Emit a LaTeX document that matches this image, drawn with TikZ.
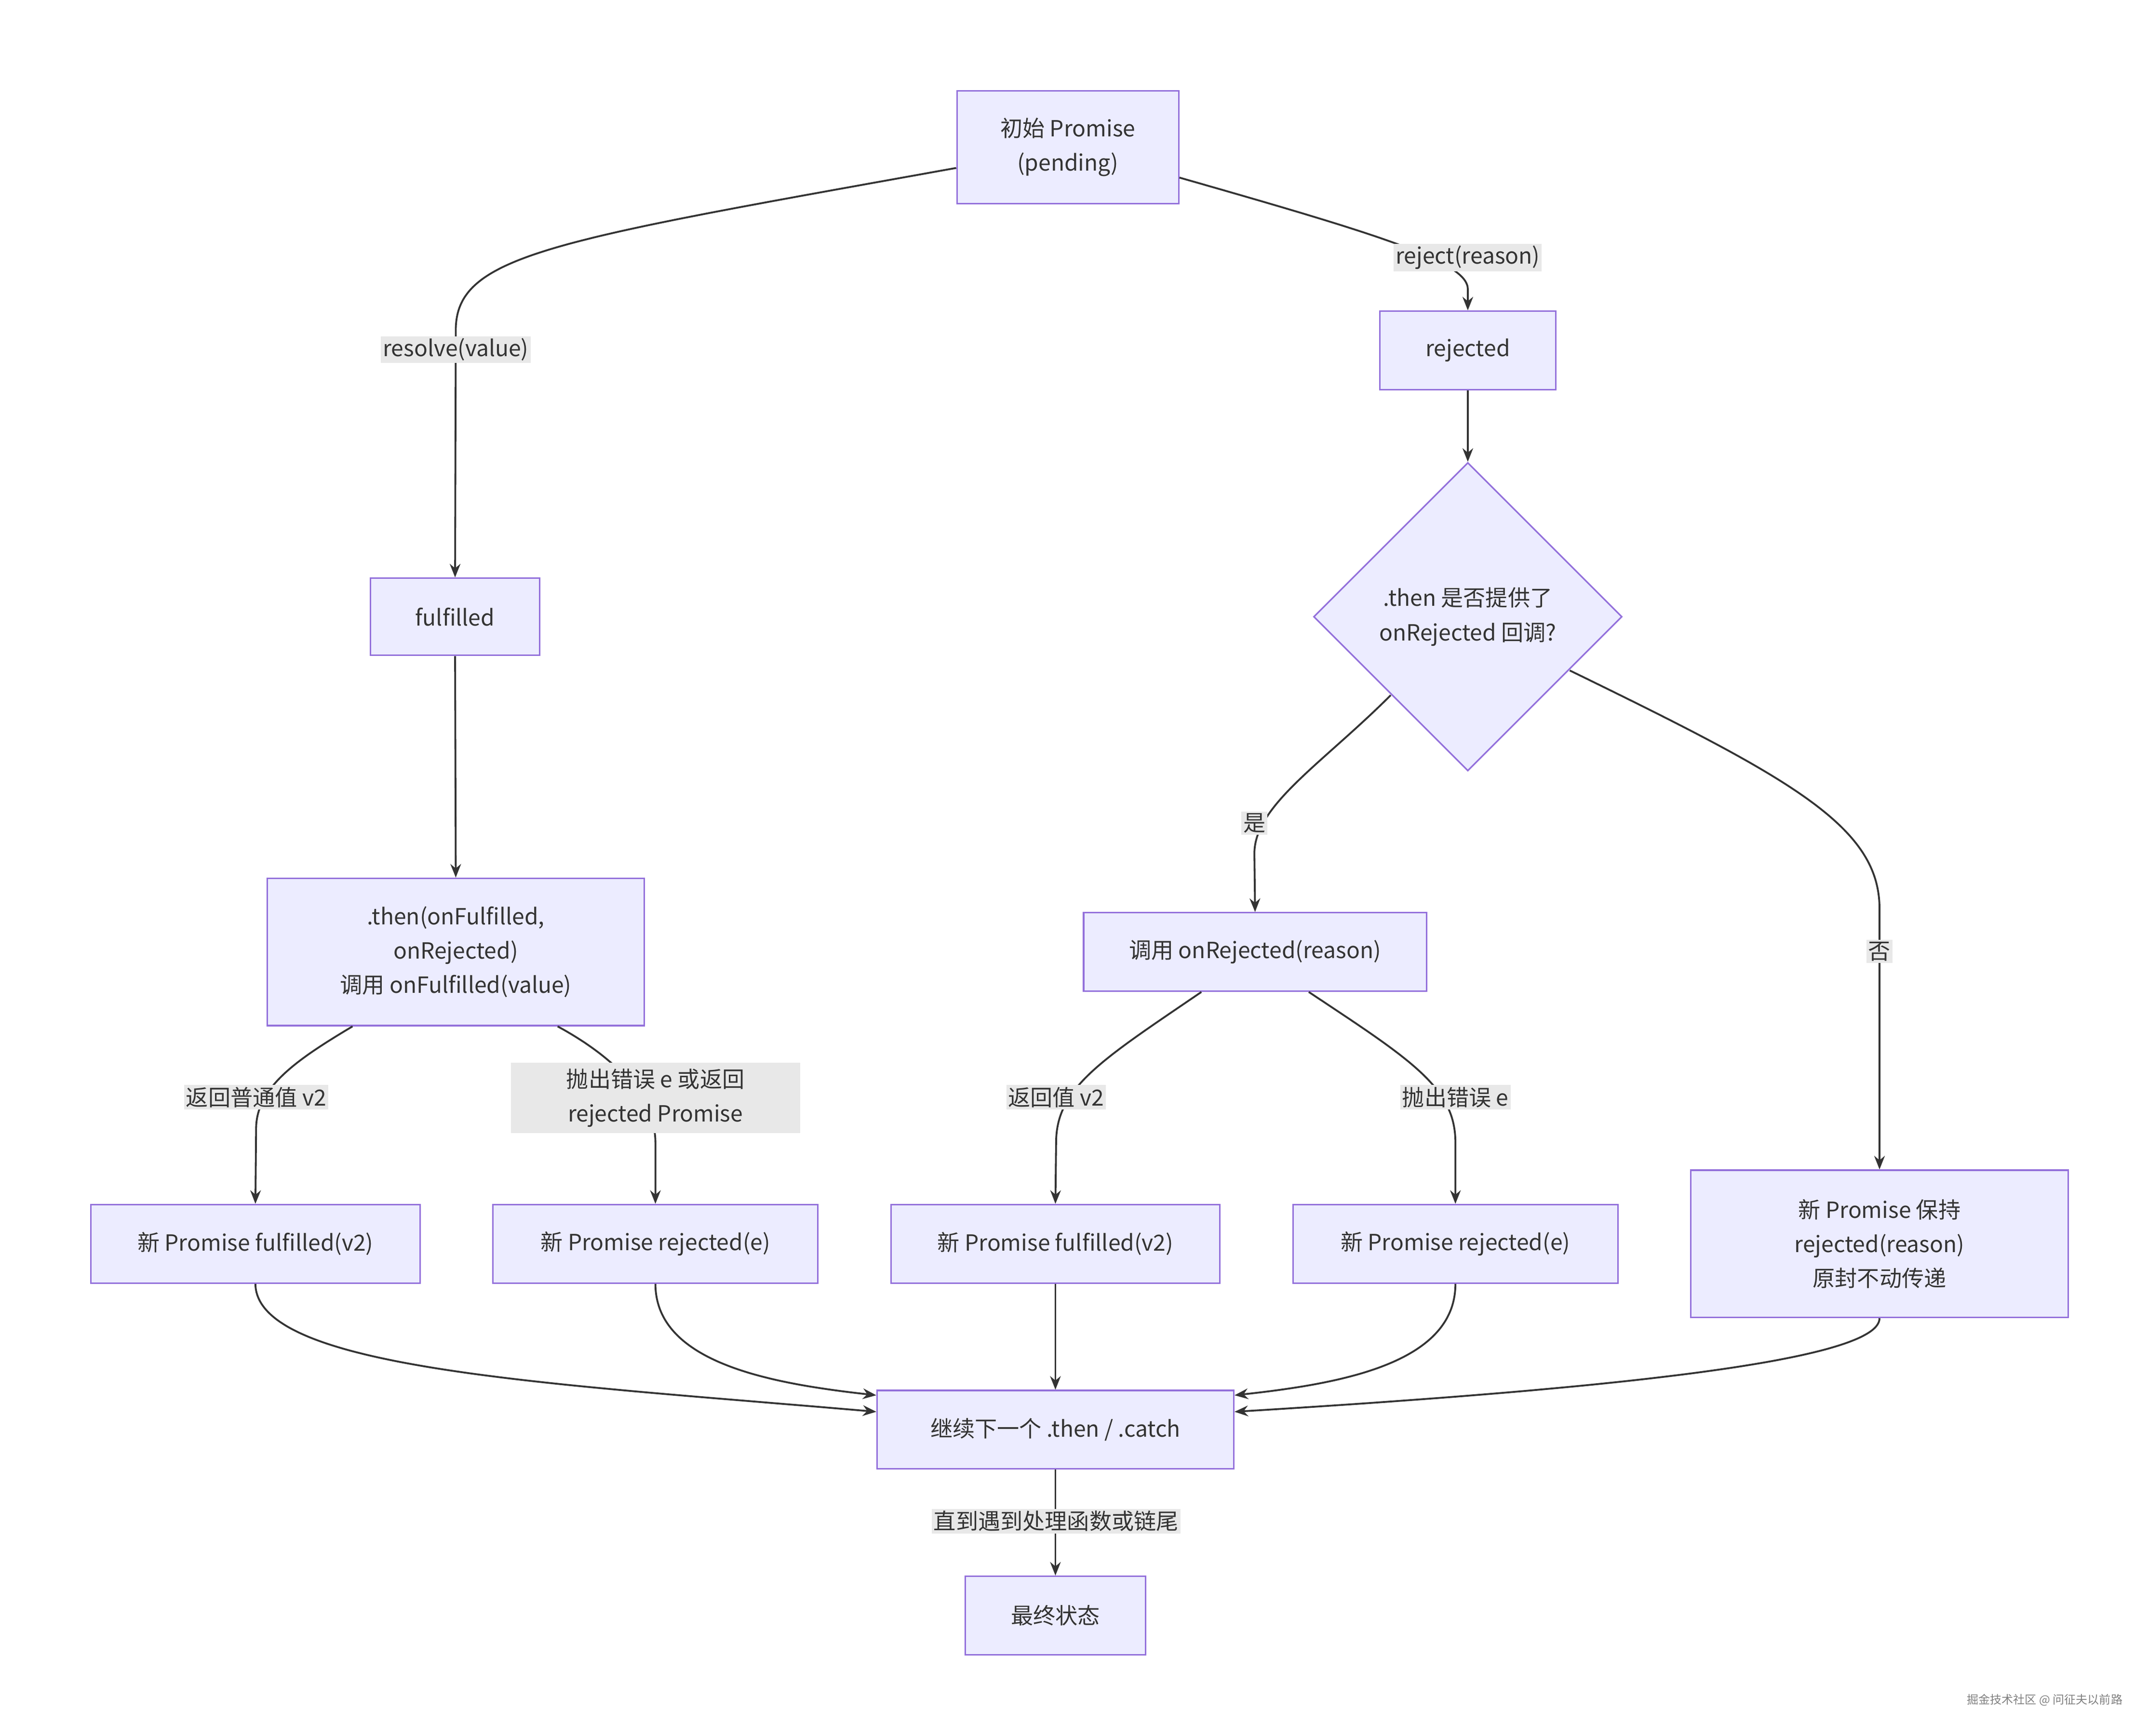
\documentclass[tikz,border=0pt]{standalone}
\usepackage{fontspec}
\setmainfont{Noto Sans CJK SC}
\usetikzlibrary{shapes.geometric,arrows.meta,calc}
\definecolor{nfill}{HTML}{ECECFF}
\definecolor{nline}{HTML}{9370DB}
\definecolor{eline}{HTML}{333333}
\definecolor{lbg}{HTML}{E8E8E8}
\begin{document}
\begin{tikzpicture}[x=0.05cm,y=-0.05cm,
  box/.style={draw=nline,fill=nfill,line width=1.6pt,inner sep=0pt,align=center,text=eline,font=\fontsize{23}{35.5}\selectfont},
  lab/.style={fill=lbg,inner sep=2pt,align=center,text=eline,font=\fontsize{23}{35.5}\selectfont},
  arr/.style={draw=eline,line width=1.9pt,-{Stealth[length=14pt,width=11pt]}}]
\useasboundingbox (0,0) rectangle (1560,1261);
\node[box,minimum width=161*0.05cm,minimum height=82*0.05cm] (init) at (775.5,107) {初始 Promise\\(pending)};
\node[box,minimum width=128*0.05cm,minimum height=57*0.05cm] (rej) at (1066,254.5) {rejected};
\node[box,minimum width=123*0.05cm,minimum height=56*0.05cm] (ful) at (330.5,448) {fulfilled};
\node[box,diamond,minimum width=224*0.05cm,minimum height=224*0.05cm] (dia) at (1066,448) {.then 是否提供了\\onRejected 回调?};
\node[box,minimum width=274*0.05cm,minimum height=107*0.05cm] (then) at (331,691.5) {.then(onFulfilled,\\onRejected)\\调用 onFulfilled(value)};
\node[box,minimum width=249*0.05cm,minimum height=57*0.05cm] (call) at (911.5,691.5) {调用 onRejected(reason)};
\node[box,minimum width=239*0.05cm,minimum height=57*0.05cm] (f1) at (185.5,903.5) {新 Promise fulfilled(v2)};
\node[box,minimum width=236*0.05cm,minimum height=57*0.05cm] (r1) at (476,903.5) {新 Promise rejected(e)};
\node[box,minimum width=239*0.05cm,minimum height=57*0.05cm] (f2) at (766.5,903.5) {新 Promise fulfilled(v2)};
\node[box,minimum width=236*0.05cm,minimum height=57*0.05cm] (r2) at (1057,903.5) {新 Promise rejected(e)};
\node[box,minimum width=274*0.05cm,minimum height=107*0.05cm] (keep) at (1365,903.5) {新 Promise 保持\\rejected(reason)\\原封不动传递};
\node[box,minimum width=259*0.05cm,minimum height=57*0.05cm] (cont) at (766.5,1038.5) {继续下一个 .then / .catch};
\node[box,minimum width=131*0.05cm,minimum height=57*0.05cm] (fin) at (766.5,1173.5) {最终状态};

\draw[arr] ($(init.west)+(0,15)$) .. controls (400,175) and (331,185) .. (331,240) -- (ful.north);
\node[lab] (l1) at (331,254) {resolve(value)};
\draw[arr] ($(init.east)+(0,22)$) .. controls (1000,170) and (1066,190) .. (1066,210) -- (rej.north);
\node[lab] (l2) at (1066,187) {reject(reason)};
\draw[arr] (rej.south) -- (dia.north);
\draw[arr] (1010,505) .. controls (960,555) and (911,585) .. (911,620) -- (call.north);
\node[lab] (l3) at (911,598) {是};
\draw[arr] (1140,487) .. controls (1300,565) and (1365,600) .. (1365,660) -- (keep.north);
\node[lab] (l4) at (1365,691) {否};
\draw[arr] (ful.south) -- (then.north);
\draw[arr] ($(then.south)+(-75,0)$) .. controls (215,770) and (186,790) .. (186,820) -- (f1.north);
\node[lab] (l5) at (186,797) {返回普通值 v2};
\draw[arr] ($(then.south)+(74,0)$) .. controls (450,770) and (476,800) .. (476,830) -- (r1.north);
\node[lab,minimum width=210*0.05cm,minimum height=51*0.05cm,inner sep=0pt] (l6) at (476,797.5) {抛出错误 e 或返回\\rejected Promise};
\draw[arr] ($(call.south)+(-39,0)$) .. controls (800,770) and (767,790) .. (767,830) -- (f2.north);
\node[lab] (l7) at (767,797) {返回值 v2};
\draw[arr] ($(call.south)+(39,0)$) .. controls (1025,770) and (1057,790) .. (1057,830) -- (r2.north);
\node[lab] (l8) at (1057,797) {抛出错误 e};
\draw[arr] (f1.south) .. controls (186,995) and (400,1005) .. ($(cont.west)+(0,-13)$);
\draw[arr] (r1.south) .. controls (476,990) and (560,1005) .. ($(cont.west)+(0,-25)$);
\draw[arr] (f2.south) -- (cont.north);
\draw[arr] (r2.south) .. controls (1057,990) and (975,1005) .. ($(cont.east)+(0,-25)$);
\draw[arr] (keep.south) .. controls (1365,990) and (1150,1010) .. ($(cont.east)+(0,-13)$);
\draw[arr] (cont.south) -- (fin.north);
\node[lab] (l9) at (767,1105) {直到遇到处理函数或链尾};
\node[text=gray,font=\fontsize{12}{14}\selectfont] (wm) at (1485,1235) {掘金技术社区 @ 问征夫以前路};
\end{tikzpicture}
\end{document}
